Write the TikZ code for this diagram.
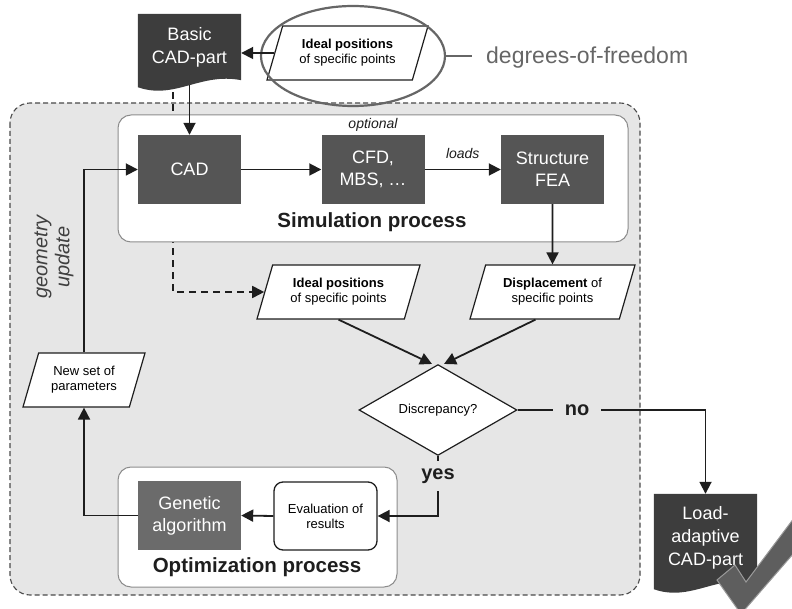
\documentclass[tikz,border=0pt]{standalone}
\usepackage{fontspec}
\setmainfont{Liberation Sans}
\usetikzlibrary{arrows.meta,shapes.geometric,calc}

\definecolor{boxdark}{HTML}{555555}
\definecolor{docdark}{HTML}{3D3D3D}
\definecolor{gabox}{HTML}{6B6B6B}
\definecolor{loopbg}{HTML}{E6E6E6}
\definecolor{loopedge}{HTML}{4A4A4A}
\definecolor{framegray}{HTML}{8C8C8C}
\definecolor{ink}{HTML}{1E1E1E}
\definecolor{dofgray}{HTML}{666666}
\definecolor{checkfill}{HTML}{5E5E5E}
\definecolor{checkedge}{HTML}{9A9A9A}

\newcommand{\fsz}[2]{\fontsize{#1}{#2}\selectfont}

% document symbol with a wavy lower edge, drawn behind the node's text
\newcommand{\drawdoc}[1]{%
  \fill[docdark] (#1.north west) -- (#1.north east) -- (#1.south east)
    .. controls ($(#1.south east)+(-41,-8)$) and ($(#1.south west)+(37,20)$)
    .. ($(#1.south west)+(0,7)$) -- cycle;}

\pgfdeclarelayer{back}
\pgfdeclarelayer{mid}
\pgfsetlayers{back,mid,main}

\tikzset{
  conn/.style={draw=ink, line width=1.8pt},
  arr/.style={conn, -{Triangle[length=12pt,width=12pt]}},
  dasharr/.style={arr, dash pattern=on 7pt off 5pt},
  loopframe/.style={fill=loopbg, draw=loopedge, line width=1.1pt,
    dash pattern=on 5pt off 3pt, rounded corners=20pt},
  groupframe/.style={fill=white, draw=framegray, line width=1pt, rounded corners=13pt},
  procbox/.style={rectangle, fill=boxdark, text=white, minimum width=103pt,
    minimum height=69pt, inner sep=0pt, align=center, font=\fsz{18}{22}},
  docnode/.style={rectangle, text=white, minimum width=103pt, inner sep=0pt,
    align=center, font=\fsz{18}{23}},
  databox/.style={trapezium, trapezium left angle=60, trapezium right angle=120,
    trapezium stretches body, draw=ink, line width=1.2pt, fill=white, inner sep=0pt,
    align=center, font=\fsz{13}{15}, minimum height=54pt},
  decision/.style={diamond, draw=ink, line width=1.2pt, fill=white, inner sep=0pt,
    minimum width=158pt, minimum height=74pt, font=\fsz{13}{15}},
  evalbox/.style={rectangle, rounded corners=9pt, draw=ink, line width=1.3pt,
    fill=white, minimum width=103pt, minimum height=68pt, inner sep=0pt,
    align=center, font=\fsz{13}{15}},
  note/.style={text=ink, inner sep=2pt, font=\itshape\fsz{14}{16}},
  branch/.style={text=ink, inner xsep=12pt, font=\bfseries\fsz{20}{24}},
  grouplabel/.style={text=ink, inner sep=0pt, font=\bfseries\fsz{20.5}{24}},
  updatelabel/.style={text=ink!85, align=center, inner sep=0pt, font=\itshape\fsz{20}{22}},
}

\begin{document}
\begin{tikzpicture}[x=1pt,y=-1pt]
\useasboundingbox (0,0) rectangle (792,609);

% shaded optimisation loop and the two process groups
\begin{pgfonlayer}{back}
  \draw[loopframe] (10,103) rectangle (640,595);
\end{pgfonlayer}
\begin{pgfonlayer}{mid}
  \draw[groupframe] (118,115) rectangle (628,242);
  \draw[groupframe] (118,467) rectangle (397,587);
\end{pgfonlayer}

% input part and degrees of freedom
\node[docnode, minimum height=66pt] (basic) at (189.5,47) {Basic\\CAD-part};
\node[databox, minimum width=161pt] (ideal1) at (347.5,53)
  {\textbf{Ideal positions}\\of specific points};
\node[ellipse, draw=dofgray, line width=2.2pt, minimum width=184pt,
  minimum height=100pt, inner sep=0pt] (dofring) at (353,56) {};
\node[anchor=west, text=dofgray, inner xsep=14pt, font=\fsz{23}{27}] (dof)
  at (472,58) {degrees-of-freedom};

% simulation process
\node[procbox] (cad) at (189.5,169.5) {CAD};
\node[procbox] (cfd) at (373,169.5) {CFD,\\MBS, …};
\node[procbox] (fea) at (552.5,169.5) {Structure\\FEA};
\node[note] (optional) at (373,125) {optional};
\node[grouplabel] (simlabel) at (372,222) {Simulation process};

% results and decision
\node[databox, minimum width=163pt] (ideal2) at (338.5,292)
  {\textbf{Ideal positions}\\of specific points};
\node[databox, minimum width=165pt] (disp) at (552.5,292)
  {\textbf{Displacement} of\\specific points};
\node[decision] (dec) at (438,410) {Discrepancy?};
\node[branch] (no) at (577,410) {no};
\node[branch, minimum height=30pt, inner ysep=0pt] (yes) at (438,476) {yes};
\node[docnode, minimum height=88pt] (load) at (705.5,538) {Load-\\adaptive\\CAD-part};

% optimisation process
\node[databox, minimum width=122pt] (newset) at (84,380) {New set of\\parameters};
\node[procbox, fill=gabox] (ga) at (189.5,515.5) {Genetic\\algorithm};
\node[evalbox] (eval) at (325.5,516) {Evaluation of\\results};
\node[grouplabel] (optlabel) at (257,567) {Optimization process};
\node[updatelabel, rotate=90] (upd) at (54,257) {geometry\\update};

% document shapes
\begin{pgfonlayer}{mid}
  \drawdoc{basic}
  \drawdoc{load}
\end{pgfonlayer}

% connectors
\draw[arr] (ideal1.west) -- (ideal1.west -| basic.east);
\draw[dofgray, line width=2pt] (dofring.east) -- (dofring.east -| dof.west);
\draw[arr] ([yshift=-5pt]basic.south) -- (cad.north);
\begin{pgfonlayer}{back}
  \draw[dasharr] ([xshift=-16.5pt]basic.south) |- (ideal2.west);
\end{pgfonlayer}
\draw[arr] (cad.east) -- (cfd.west);
\draw[arr] (cfd.east) -- node[note, above=8pt] (loads) {loads} (fea.west);
\draw[arr] (fea.south) -- (disp.north);
\draw[arr] (ideal2.south) -- ([xshift=-6pt]dec.north);
\draw[arr] ([xshift=-17pt]disp.south) -- ([xshift=6pt]dec.north);
\draw[conn] (dec.east) -- (no.west);
\draw[arr] (no.east) -| (load.north);
\draw[conn] (dec.south) -- (yes.north);
\draw[arr] (yes.south) |- (eval.east);
\draw[arr] (eval.west) -- (ga.east);
\draw[arr] (ga.west) -| (newset.south);
\draw[arr] (newset.north) |- (cad.west);

% approval tick over the result part
\begin{scope}
  \clip (0,0) rectangle (792,609);
  \filldraw[fill=checkfill, draw=checkedge, line width=1pt, line join=miter]
    (717,580) -- (735,565) -- (746,582) -- (800,510) -- (800,546) -- (741,614) -- cycle;
\end{scope}
\end{tikzpicture}
\end{document}
